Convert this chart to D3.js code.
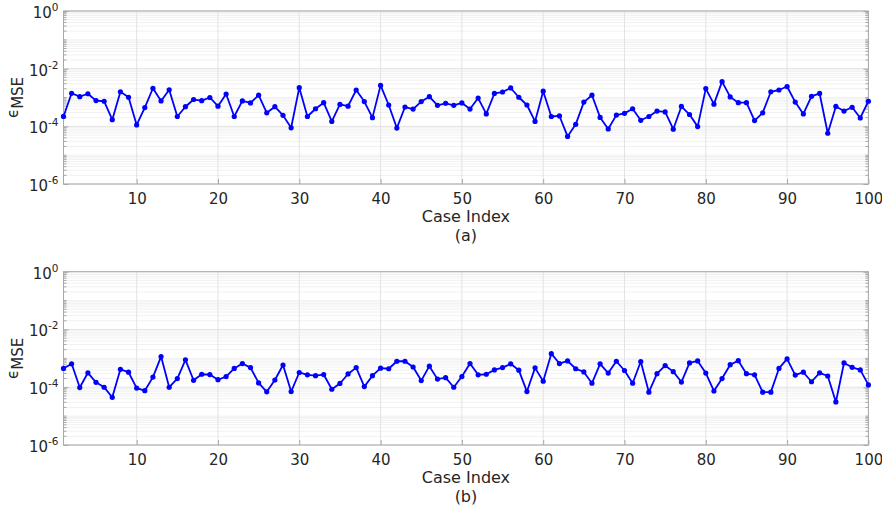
<!DOCTYPE html>
<html>
<head>
<meta charset="utf-8">
<script src="https://cdn.jsdelivr.net/npm/d3@7"></script>
<style>
  html, body { margin: 0; padding: 0; background: #fff; }
  svg { display: block; font-family: "DejaVu Sans", sans-serif; }
</style>
</head>
<body>
<svg id="chart" width="882" height="512"></svg>
<script>
// Case indices 1..100
const caseIndex = d3.range(1, 101);

// Mean squared error per case, setting (a)
const mseA = [
  2.2e-4, 1.4e-3, 1.07e-3, 1.35e-3, 7.8e-4, 7.4e-4, 1.7e-4, 1.58e-3, 1.02e-3, 1.12e-4,
  4.47e-4, 2.09e-3, 7.59e-4, 1.86e-3, 2.19e-4, 4.79e-4, 8.51e-4, 7.76e-4, 1.0e-3, 5.01e-4,
  1.32e-3, 2.19e-4, 7.59e-4, 6.46e-4, 1.2e-3, 2.95e-4, 4.79e-4, 2.4e-4, 8.91e-5, 2.19e-3,
  2.19e-4, 4.07e-4, 6.61e-4, 1.48e-4, 5.75e-4, 5.01e-4, 1.82e-3, 7.24e-4, 2.0e-4, 2.63e-3,
  5.5e-4, 8.71e-5, 4.68e-4, 3.98e-4, 7.24e-4, 1.07e-3, 5.37e-4, 6.31e-4, 5.37e-4, 6.46e-4,
  3.98e-4, 9.55e-4, 2.69e-4, 1.38e-3, 1.55e-3, 2.14e-3, 1.02e-3, 5.5e-4, 1.48e-4, 1.66e-3,
  2.19e-4, 2.29e-4, 4.47e-5, 1.17e-4, 6.92e-4, 1.2e-3, 2.04e-4, 8.13e-5, 2.45e-4, 2.82e-4,
  4.07e-4, 1.62e-4, 2.19e-4, 3.39e-4, 3.16e-4, 7.94e-5, 4.9e-4, 2.57e-4, 9.77e-5, 2.04e-3,
  5.89e-4, 3.55e-3, 1.05e-3, 6.61e-4, 6.61e-4, 1.58e-4, 2.95e-4, 1.58e-3, 1.82e-3, 2.4e-3,
  6.92e-4, 2.69e-4, 1.1e-3, 1.38e-3, 5.75e-5, 4.9e-4, 3.39e-4, 4.57e-4, 1.95e-4, 7.41e-4
];

// Mean squared error per case, setting (b)
const mseB = [
  4.47e-4, 6.46e-4, 9.77e-5, 3.16e-4, 1.48e-4, 1.0e-4, 4.47e-5, 4.17e-4, 3.31e-4, 9.33e-5,
  7.59e-5, 2.24e-4, 1.15e-3, 1.0e-4, 2.0e-4, 8.91e-4, 1.74e-4, 2.82e-4, 2.75e-4, 1.82e-4,
  2.34e-4, 4.47e-4, 6.61e-4, 4.79e-4, 1.41e-4, 6.92e-5, 1.78e-4, 5.89e-4, 7.08e-5, 3.24e-4,
  2.69e-4, 2.51e-4, 2.75e-4, 8.51e-5, 1.35e-4, 2.88e-4, 4.79e-4, 1.05e-4, 2.51e-4, 4.57e-4,
  4.37e-4, 7.94e-4, 7.94e-4, 5.01e-4, 1.7e-4, 5.37e-4, 1.91e-4, 2.14e-4, 1.0e-4, 2.34e-4,
  6.61e-4, 2.69e-4, 2.82e-4, 3.98e-4, 4.79e-4, 6.46e-4, 3.89e-4, 7.08e-5, 4.68e-4, 1.62e-4,
  1.45e-3, 6.61e-4, 8.13e-4, 4.37e-4, 3.39e-4, 1.38e-4, 6.46e-4, 3.09e-4, 7.94e-4, 3.8e-4,
  1.38e-4, 7.76e-4, 6.76e-5, 2.95e-4, 5.62e-4, 3.47e-4, 1.51e-4, 6.92e-4, 8.13e-4, 3.09e-4,
  7.41e-5, 2.0e-4, 6.03e-4, 8.32e-4, 2.95e-4, 2.69e-4, 6.76e-5, 6.76e-5, 4.47e-4, 9.55e-4,
  2.63e-4, 3.31e-4, 1.55e-4, 3.16e-4, 2.45e-4, 3.09e-5, 6.92e-4, 4.9e-4, 3.98e-4, 1.2e-4
];

const xTicks = [10, 20, 30, 40, 50, 60, 70, 80, 90, 100];
const yTickExponents = [0, -2, -4, -6];
const panelLabels = ["(a)", "(b)"];
const xLabel = "Case Index";

const svg = d3.select("#chart");
const textColor = "#262626";
const boxColor = "#a8a8a8";
const lineColor = "#0000ff";

const left = 63.5, right = 868.4;
const panels = [
  { data: mseA, top: 11, bottom: 184, label: panelLabels[0] },
  { data: mseB, top: 271.7, bottom: 445, label: panelLabels[1] }
];

// Minor log positions: every m x 10^k that is not a labelled tick
const majorVals = yTickExponents.map(e => Math.pow(10, e));
const minorVals = [];
for (let k = -6; k < 0; k++) {
  for (let m = 1; m <= 9; m++) {
    if (m === 1 && k % 2 === 0) continue;
    minorVals.push(m * Math.pow(10, k));
  }
}

panels.forEach(p => {
  const x = d3.scaleLinear().domain([1, 100]).range([left, right]);
  const y = d3.scaleLog().domain([1e-6, 1]).range([p.bottom, p.top]);
  const g = svg.append("g");

  // minor horizontal grid
  g.append("g").selectAll("line").data(minorVals).join("line")
    .attr("x1", left).attr("x2", right)
    .attr("y1", d => y(d)).attr("y2", d => y(d))
    .attr("stroke", "#f1f1f1").attr("stroke-width", 1);

  // major horizontal grid
  g.append("g").selectAll("line").data(majorVals).join("line")
    .attr("x1", left).attr("x2", right)
    .attr("y1", d => y(d)).attr("y2", d => y(d))
    .attr("stroke", "#e3e3e3").attr("stroke-width", 1);

  // vertical grid
  g.append("g").selectAll("line").data(xTicks).join("line")
    .attr("x1", d => x(d)).attr("x2", d => x(d))
    .attr("y1", p.top).attr("y2", p.bottom)
    .attr("stroke", "#e3e3e3").attr("stroke-width", 1);

  // bottom axis with inward ticks
  const xAxis = d3.axisBottom(x).tickValues(xTicks).tickSizeInner(-5).tickSizeOuter(0).tickPadding(9);
  const gx = g.append("g").attr("transform", `translate(0,${p.bottom})`).call(xAxis);
  gx.select(".domain").remove();
  gx.selectAll(".tick line").attr("stroke", boxColor);
  gx.selectAll(".tick text").attr("fill", textColor)
    .style("font-size", "15px").style("font-family", "DejaVu Sans, sans-serif");

  // left and right axes: inward ticks at labelled decades
  const yAxisL = d3.axisLeft(y).tickValues(majorVals)
    .tickSizeInner(-5).tickSizeOuter(0).tickFormat("");
  const gyl = g.append("g").attr("transform", `translate(${left},0)`).call(yAxisL);
  gyl.select(".domain").remove();
  gyl.selectAll(".tick line").attr("stroke", boxColor);

  const yAxisR = d3.axisRight(y).tickValues(majorVals)
    .tickSizeInner(-5).tickSizeOuter(0).tickFormat("");
  const gyr = g.append("g").attr("transform", `translate(${right},0)`).call(yAxisR);
  gyr.select(".domain").remove();
  gyr.selectAll(".tick line").attr("stroke", boxColor);

  // minor ticks on both sides
  [left, right].forEach((xx, i) => {
    const dir = i === 0 ? 1 : -1;
    g.append("g").selectAll("line").data(minorVals).join("line")
      .attr("x1", xx).attr("x2", xx + dir * 3)
      .attr("y1", d => y(d)).attr("y2", d => y(d))
      .attr("stroke", boxColor).attr("stroke-width", 1);
  });

  // y tick labels with superscript exponents
  yTickExponents.forEach(e => {
    const t = g.append("text")
      .attr("x", left - 5).attr("y", y(Math.pow(10, e)) + 7)
      .attr("text-anchor", "end").attr("fill", textColor)
      .style("font-size", "15px");
    t.append("tspan").text("10");
    t.append("tspan").attr("dy", -7).style("font-size", "10.5px").text(String(e));
  });

  // axis box
  g.append("rect")
    .attr("x", left).attr("y", p.top)
    .attr("width", right - left).attr("height", p.bottom - p.top)
    .attr("fill", "none").attr("stroke", boxColor).attr("stroke-width", 1);

  // series line and markers
  const pts = p.data.map((v, i) => [caseIndex[i], v]);
  g.append("path").datum(pts)
    .attr("fill", "none").attr("stroke", lineColor).attr("stroke-width", 1.8)
    .attr("stroke-linejoin", "round")
    .attr("d", d3.line().x(d => x(d[0])).y(d => y(d[1])));
  g.append("g").selectAll("circle").data(pts).join("circle")
    .attr("cx", d => x(d[0])).attr("cy", d => y(d[1])).attr("r", 2.6)
    .attr("fill", lineColor);

  // x label and panel caption
  const cx = (left + right) / 2;
  g.append("text").attr("x", cx).attr("y", p.bottom + 38)
    .attr("text-anchor", "middle").attr("fill", textColor)
    .style("font-size", "16px").text(xLabel);
  g.append("text").attr("x", cx).attr("y", p.bottom + 57)
    .attr("text-anchor", "middle").attr("fill", textColor)
    .style("font-size", "16px").text(p.label);

  // y label: epsilon with MSE subscript
  const yl = g.append("text")
    .attr("transform", `translate(18,${(p.top + p.bottom) / 2}) rotate(-90)`)
    .attr("text-anchor", "middle").attr("fill", textColor)
    .style("font-size", "15px");
  yl.append("tspan").text("\u03F5");
  yl.append("tspan").attr("dy", 5).style("font-size", "15px").text("MSE");
});
</script>
</body>
</html>
